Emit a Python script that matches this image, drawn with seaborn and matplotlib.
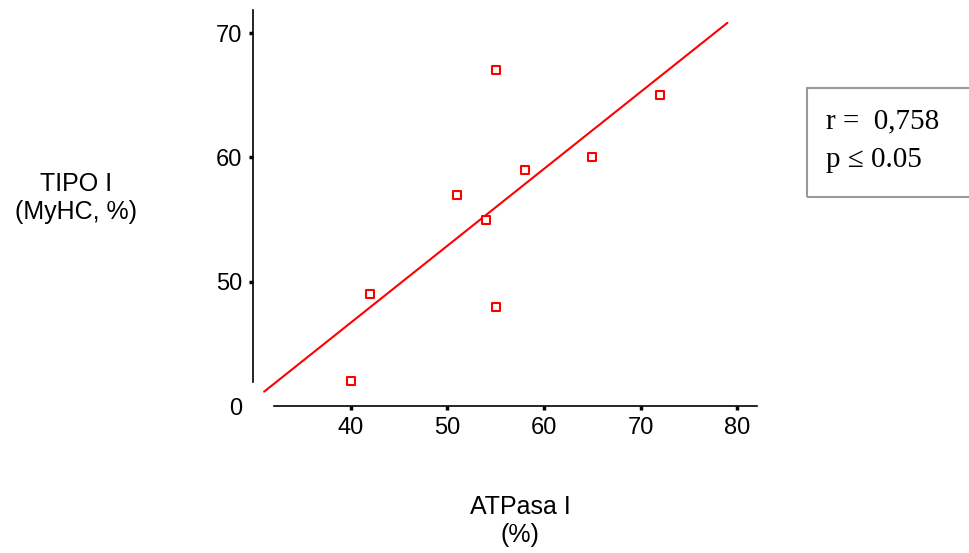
import matplotlib
matplotlib.use("Agg")
import numpy as np
import pandas as pd
import matplotlib.pyplot as plt
from matplotlib.patches import Rectangle
import seaborn as sns

# data
atpasa = [40, 42, 51, 54, 55, 55, 58, 65, 72]
tipo = [42, 49, 57, 55, 67, 48, 59, 60, 65]
fit_range = [31, 79]
y_ticks = [40, 50, 60, 70]
y_tick_labels = ["0", "50", "60", "70"]
x_ticks = [40, 50, 60, 70, 80]
r_text = "r =  0,758"
p_text = "p \u2264 0.05"

sns.set_style("white")
plt.rcParams["font.family"] = ["Liberation Sans", "DejaVu Sans"]
plt.rcParams["text.color"] = "black"
plt.rcParams["xtick.color"] = "black"
plt.rcParams["ytick.color"] = "black"

df = pd.DataFrame({"ATPasa I": atpasa, "TIPO I": tipo})

W, H = 969, 553
fig = plt.figure(figsize=(W / 100, H / 100), dpi=100)
# axes box in pixels: left 253, right 757, top 10, bottom 406
ax = fig.add_axes([253 / W, 1 - 406 / H, (757 - 253) / W, (406 - 10) / H])

# regression line (least squares fit)
slope, intercept = np.polyfit(df["ATPasa I"], df["TIPO I"], 1)
fx = np.array(fit_range, dtype=float)
sns.lineplot(x=fx, y=intercept + slope * fx, color="#ff0000", lw=1.5, ax=ax)

sns.scatterplot(data=df, x="ATPasa I", y="TIPO I", marker="s", s=26,
                facecolor="white", edgecolor="#ff0000", linewidth=1.5,
                zorder=3, ax=ax)

ax.set_xlim(29.85, 82.07)
ax.set_ylim(40.04, 71.85)

for s in ["top", "right"]:
    ax.spines[s].set_visible(False)
ax.spines["left"].set_bounds(41.9, 71.85)
ax.spines["bottom"].set_bounds(32.0, 82.07)
for s in ["left", "bottom"]:
    ax.spines[s].set_linewidth(1.2)
    ax.spines[s].set_color("black")

ax.set_yticks(y_ticks)
ax.set_yticklabels(y_tick_labels)
ax.set_xticks(x_ticks)
ax.tick_params(axis="both", which="major", direction="out", length=3, width=2.5,
               labelsize=17, color="black", labelcolor="black", pad=5,
               left=True, bottom=True)
ax.yaxis.get_major_ticks()[0].tick1line.set_visible(False)

ax.set_xlabel("")
ax.set_ylabel("")
fig.text(76 / W, 1 - 198 / H, "TIPO I\n(MyHC, %)", ha="center", va="center",
         fontsize=18, linespacing=1.2, color="black")
fig.text(520 / W, 1 - 521 / H, "ATPasa I\n(%)", ha="center", va="center",
         fontsize=18, linespacing=1.2, color="black")

# stats box
fig.patches.append(Rectangle((807 / W, 1 - 197 / H), 200 / W, 109 / H,
                             transform=fig.transFigure, fill=False,
                             edgecolor="#999999", lw=1.5))
fig.text(826 / W, 1 - 121 / H, r_text, ha="left", va="center", fontsize=21,
         family=["Liberation Serif", "DejaVu Serif"], color="black")
fig.text(826 / W, 1 - 160 / H, p_text, ha="left", va="center", fontsize=21,
         family=["Liberation Serif", "DejaVu Serif"], color="black")

fig.savefig("out.png", dpi=100)
